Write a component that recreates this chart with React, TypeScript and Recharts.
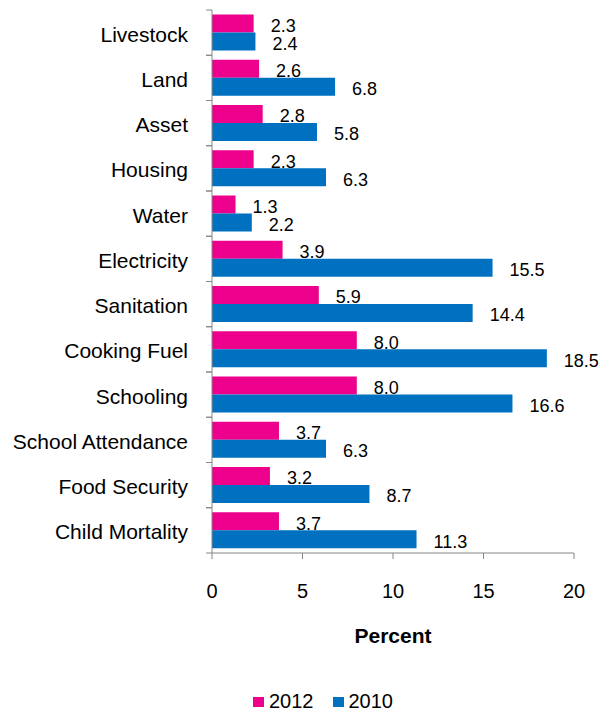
import { BarChart, Bar, XAxis, YAxis, Legend, LabelList } from "recharts";

const categories = [
  "Livestock",
  "Land",
  "Asset",
  "Housing",
  "Water",
  "Electricity",
  "Sanitation",
  "Cooking Fuel",
  "Schooling",
  "School Attendance",
  "Food Security",
  "Child Mortality",
];
const values2012 = [2.3, 2.6, 2.8, 2.3, 1.3, 3.9, 5.9, 8.0, 8.0, 3.7, 3.2, 3.7];
const values2010 = [2.4, 6.8, 5.8, 6.3, 2.2, 15.5, 14.4, 18.5, 16.6, 6.3, 8.7, 11.3];
const xTicks = [0, 5, 10, 15, 20];
const seriesOrder = ["2012", "2010"];

const PINK = "#EC008C";
const BLUE = "#0070C0";
const AXIS = "#868686";
const FONT = "'Liberation Sans', Arial, sans-serif";

const data = categories.map((name, i) => ({
  name,
  y2012: values2012[i],
  y2010: values2010[i],
}));

const fmt = (v: any) => Number(v).toFixed(1);

function CategoryTick(props: any) {
  const { x, y, payload } = props;
  const half = payload && payload.offset ? payload.offset : 45.25 / 2;
  const axisX = x + 24;
  return (
    <g>
      <line x1={axisX - 6} x2={axisX} y1={y - half} y2={y - half} stroke={AXIS} />
      <line x1={axisX - 6} x2={axisX} y1={y + half} y2={y + half} stroke={AXIS} />
      <text x={x} y={y} dy={9} textAnchor="end" fontSize={21} fill="#000" fontFamily={FONT}>
        {payload.value}
      </text>
    </g>
  );
}

function LegendBox(props: any) {
  const items = [...(props.payload || [])].sort(
    (a: any, b: any) => seriesOrder.indexOf(String(a.value)) - seriesOrder.indexOf(String(b.value))
  );
  return (
    <div
      style={{
        height: 40,
        display: "flex",
        alignItems: "flex-end",
        justifyContent: "center",
        marginLeft: 36,
        fontSize: 20,
        lineHeight: "23px",
        color: "#000",
        fontFamily: FONT,
      }}
    >
      {items.map((it: any, i: number) => (
        <div
          key={it.value}
          style={{ display: "flex", alignItems: "center", marginRight: i < items.length - 1 ? 19 : 0 }}
        >
          <span
            style={{ display: "inline-block", width: 11, height: 10, background: it.color, marginRight: 5 }}
          />
          <span>{it.value}</span>
        </div>
      ))}
    </div>
  );
}

export default function App() {
  return (
    <div style={{ position: "absolute", left: 0, top: 0, fontFamily: FONT }}>
      <BarChart
        width={610}
        height={713}
        data={data}
        layout="vertical"
        margin={{ top: 10, right: 36, left: 0, bottom: 0 }}
        barCategoryGap="10%"
        barGap={0}
        style={{ fontFamily: FONT }}
      >
        <XAxis
          type="number"
          domain={[0, 20]}
          ticks={xTicks}
          stroke={AXIS}
          tickSize={6}
          tickMargin={25}
          height={120}
          tick={{ fill: "#000", fontSize: 20, fontFamily: FONT }}
          label={{
            value: "Percent",
            position: "insideTop",
            offset: 75,
            style: { fontWeight: "bold", fontSize: 21, fill: "#000", fontFamily: FONT },
          }}
        />
        <YAxis
          type="category"
          dataKey="name"
          width={212}
          stroke={AXIS}
          tickSize={0}
          tickMargin={24}
          interval={0}
          tick={<CategoryTick />}
        />
        <Legend verticalAlign="bottom" content={<LegendBox />} wrapperStyle={{ left: 0, width: 610 }} />
        <Bar dataKey="y2012" name="2012" fill={PINK} isAnimationActive={false}>
          <LabelList
            dataKey="y2012"
            position="right"
            offset={17}
            dy={2}
            formatter={fmt}
            fontSize={18}
            fill="#000"
            fontFamily={FONT}
          />
        </Bar>
        <Bar dataKey="y2010" name="2010" fill={BLUE} isAnimationActive={false}>
          <LabelList
            dataKey="y2010"
            position="right"
            offset={17}
            dy={2}
            formatter={fmt}
            fontSize={18}
            fill="#000"
            fontFamily={FONT}
          />
        </Bar>
      </BarChart>
    </div>
  );
}
